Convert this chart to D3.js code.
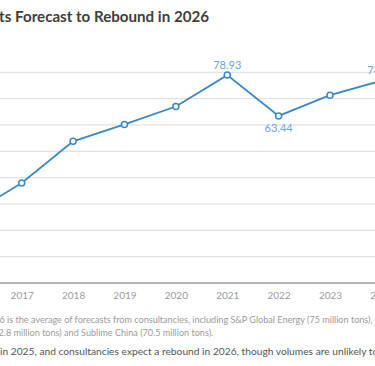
<!DOCTYPE html>
<html><head><meta charset="utf-8">
<script src="https://cdn.jsdelivr.net/npm/d3@7"></script>
<style>
html,body{margin:0;padding:0;background:#fff;overflow:hidden}
svg{display:block}
</style></head>
<body><svg id="c" width="375" height="366"></svg>
<script>
const years = [2016, 2017, 2018, 2019, 2020, 2021, 2022, 2023, 2024];
const values = [26.0, 38.0, 53.8, 60.2, 67.0, 78.93, 63.44, 71.3, 76.8];
const labelled = {2021: "78.93", 2022: "63.44", 2024: "76.80"};
const labelBelow = [2022];
const yTicks = [0, 10, 20, 30, 40, 50, 60, 70, 80];
const titleText = "ts Forecast to Rebound in 2026";
const noteLines = [
  "6 is the average of forecasts from consultancies, including S&P Global Energy (75 million tons),",
  "2.8 million tons) and Sublime China (70.5 million tons)."
];
const bodyText = "in 2025, and consultancies expect a rebound in 2026, though volumes are unlikely";
const bodyTail = " to";

const svg = d3.select("#c");
const font = "Lato, 'Noto Sans', sans-serif";
const x = d3.scaleLinear().domain([2017, 2023]).range([21.7, 330]);
const y = d3.scaleLinear().domain([0, 80]).range([283, 72.3]);

function fit(sel, target) {
  const w = sel.node().getComputedTextLength();
  const fs = parseFloat(sel.attr("font-size"));
  sel.attr("font-size", (fs * target / w).toFixed(2));
}

// title
const t = svg.append("text").attr("x", 209).attr("y", 21.5).attr("text-anchor", "end")
  .attr("font-family", font).attr("font-weight", 700).attr("font-size", 15)
  .attr("fill", "#404040").text(titleText);
fit(t, 210);

// grid
const grid = svg.append("g");
grid.selectAll("line").data(yTicks.filter(d => d > 0)).join("line")
  .attr("x1", -60).attr("x2", 440)
  .attr("y1", d => y(d)).attr("y2", d => y(d))
  .attr("stroke", "#dcdcdc").attr("stroke-width", 1);

// x axis
const xAxis = d3.axisBottom(x).tickValues(years).tickFormat(d3.format("d")).tickSize(0).tickPadding(9);
const ax = svg.append("g").attr("transform", `translate(0,${y(0)})`).call(xAxis);
ax.select(".domain").remove();
ax.append("line").attr("x1", -60).attr("x2", 440).attr("stroke", "#9a9a9a").attr("stroke-width", 1.5);
ax.selectAll(".tick text").attr("font-family", font).attr("font-size", 10).attr("fill", "#9a9a9a");

// line
const data = years.map((yr, i) => ({yr, v: values[i]}));
svg.append("path").datum(data)
  .attr("fill", "none").attr("stroke", "#3a87c6").attr("stroke-width", 1.8)
  .attr("d", d3.line().x(d => x(d.yr)).y(d => y(d.v)));
svg.selectAll("circle.pt").data(data).join("circle").attr("class", "pt")
  .attr("cx", d => x(d.yr)).attr("cy", d => y(d.v)).attr("r", 3)
  .attr("fill", "#fff").attr("stroke", "#3a87c6").attr("stroke-width", 1.5);

// value labels
svg.selectAll("text.lab").data(data.filter(d => labelled[d.yr])).join("text").attr("class", "lab")
  .attr("x", d => x(d.yr))
  .attr("y", d => y(d.v) + (labelBelow.includes(d.yr) ? 16 : -6.5))
  .attr("text-anchor", "middle").attr("font-family", font).attr("font-size", 11)
  .attr("fill", "#6fa5d5").text(d => labelled[d.yr]);

// notes
const n1 = svg.append("text").attr("x", -0.5).attr("y", 323).attr("font-family", font)
  .attr("font-size", 10).attr("fill", "#9a9a9a").text(noteLines[0]);
fit(n1, 373);
svg.append("text").attr("x", -1.5).attr("y", 335.5).attr("font-family", font)
  .attr("font-size", n1.attr("font-size")).attr("fill", "#9a9a9a").text(noteLines[1]);
const b = svg.append("text").attr("x", 0).attr("y", 355).attr("font-family", font)
  .attr("font-size", 12).attr("fill", "#555").text(bodyText);
fit(b, 367);
b.text(bodyText + bodyTail);
</script>
</body></html>
